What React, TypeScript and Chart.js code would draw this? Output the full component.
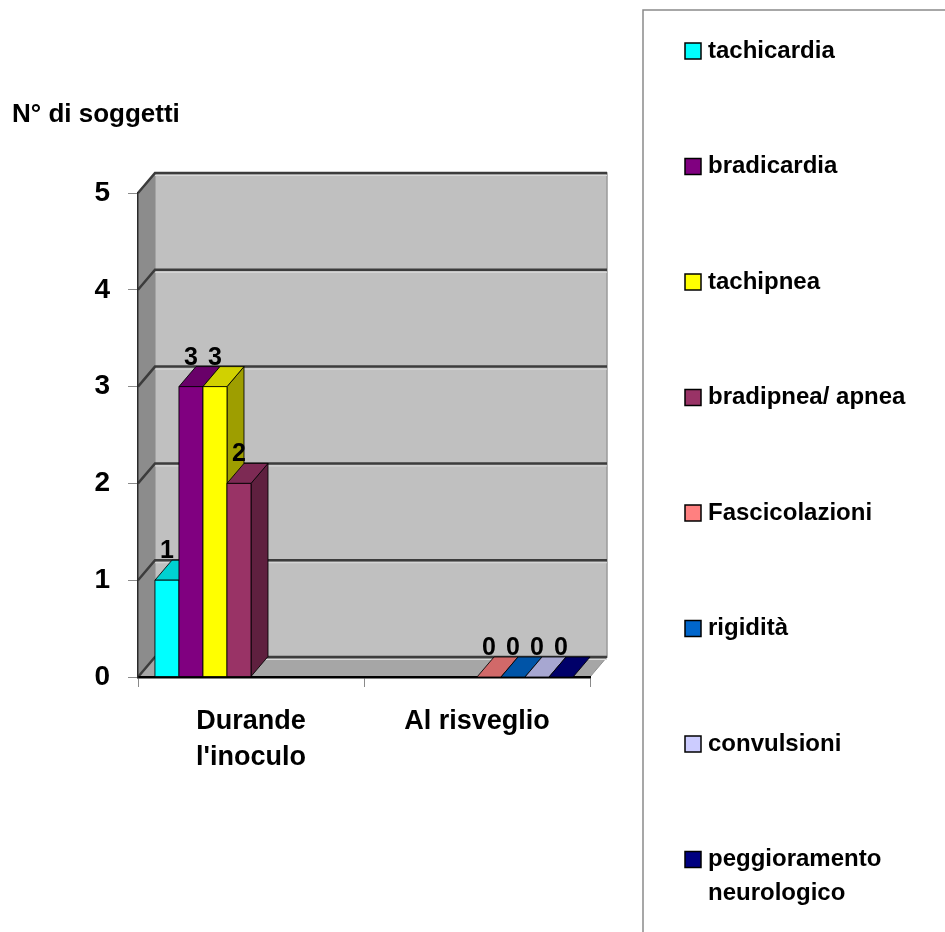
import React, { useEffect, useRef } from 'react';
import { Chart, registerables } from 'chart.js';

Chart.register(...registerables);

// ---------- data ----------
const categories: (string | string[])[] = [['Durande', "l'inoculo"], 'Al risveglio'];
const seriesNames = [
  'tachicardia',
  'bradicardia',
  'tachipnea',
  'bradipnea/ apnea',
  'Fascicolazioni',
  'rigidità',
  'convulsioni',
  'peggioramento neurologico',
];
const tachicardia = [1, null];
const bradicardia = [3, null];
const tachipnea = [3, null];
const bradipnea = [2, null];
const fascicolazioni = [null, 0];
const rigidita = [null, 0];
const convulsioni = [null, 0];
const peggioramento = [null, 0];
const seriesValues = [tachicardia, bradicardia, tachipnea, bradipnea, fascicolazioni, rigidita, convulsioni, peggioramento];
const seriesColors = ['#00FFFF', '#800080', '#FFFF00', '#993366', '#FF8080', '#0066CC', '#CCCCFF', '#000080'];
const yMin = 0;
const yMax = 5;
const yStep = 1;
const yTitle = 'N° di soggetti';

// ---------- styling ----------
const FONT = "'Liberation Sans', Arial, Helvetica, sans-serif";
const DX = 17;
const DY = 20;

function shade(hex: string, f: number): string {
  const h = hex.replace('#', '');
  const r = Math.round(parseInt(h.slice(0, 2), 16) * f);
  const g = Math.round(parseInt(h.slice(2, 4), 16) * f);
  const b = Math.round(parseInt(h.slice(4, 6), 16) * f);
  return `rgb(${r},${g},${b})`;
}

function poly(ctx: CanvasRenderingContext2D, pts: number[][], fill: string, stroke?: string, lw = 1) {
  ctx.beginPath();
  ctx.moveTo(pts[0][0], pts[0][1]);
  for (let i = 1; i < pts.length; i++) ctx.lineTo(pts[i][0], pts[i][1]);
  ctx.closePath();
  ctx.fillStyle = fill;
  ctx.fill();
  if (stroke) {
    ctx.strokeStyle = stroke;
    ctx.lineWidth = lw;
    ctx.stroke();
  }
}

const threeDPlugin = {
  id: 'threeD',
  beforeDraw(chart: any) {
    const { ctx, chartArea: a, scales } = chart;
    const y = scales.y;
    ctx.save();
    // back wall
    poly(ctx, [
      [a.left + DX, a.top - DY],
      [a.right + DX, a.top - DY],
      [a.right + DX, a.bottom - DY],
      [a.left + DX, a.bottom - DY],
    ], '#c0c0c0', '#9a9a9a', 1.5);
    // left wall
    poly(ctx, [
      [a.left, a.top],
      [a.left + DX, a.top - DY],
      [a.left + DX, a.bottom - DY],
      [a.left, a.bottom],
    ], '#8c8c8c');
    // floor
    poly(ctx, [
      [a.left, a.bottom],
      [a.right, a.bottom],
      [a.right + DX, a.bottom - DY],
      [a.left + DX, a.bottom - DY],
    ], '#a6a6a6', '#909090', 1);
    // gridlines on back & left wall
    y.ticks.forEach((t: any) => {
      const py = y.getPixelForValue(t.value);
      ctx.lineWidth = 1;
      ctx.strokeStyle = '#dadada';
      ctx.beginPath();
      ctx.moveTo(a.left + DX, py - DY + 2.5);
      ctx.lineTo(a.right + DX, py - DY + 2.5);
      ctx.stroke();
      ctx.lineWidth = 2.5;
      ctx.strokeStyle = '#3c3c3c';
      ctx.beginPath();
      ctx.moveTo(a.left, py);
      ctx.lineTo(a.left + DX, py - DY);
      ctx.lineTo(a.right + DX, py - DY);
      ctx.stroke();
    });
    ctx.restore();
  },
  afterDatasetsDraw(chart: any) {
    const { ctx } = chart;
    const bars: any[] = [];
    chart.data.datasets.forEach((ds: any, di: number) => {
      const meta = chart.getDatasetMeta(di);
      if (meta.hidden) return;
      meta.data.forEach((el: any, i: number) => {
        const v = ds.data[i];
        if (v === null || v === undefined) return;
        const p = el.getProps(['x', 'y', 'base', 'width'], true);
        bars.push({ x: p.x, y: p.y, base: p.base, w: p.width, color: ds.backgroundColor, v });
      });
    });
    bars.sort((a, b) => a.x - b.x);
    ctx.save();
    const edge = 'rgba(0,0,0,0.85)';
    bars.forEach((b) => {
      const l = b.x - b.w / 2;
      const r = b.x + b.w / 2;
      // side face
      if (b.base - b.y > 0.5) {
        poly(ctx, [[r, b.y], [r + DX, b.y - DY], [r + DX, b.base - DY], [r, b.base]], shade(b.color, 0.62), edge, 1);
      }
      // top face
      poly(ctx, [[l, b.y], [r, b.y], [r + DX, b.y - DY], [l + DX, b.y - DY]], shade(b.color, 0.82), edge, 1);
      // front face
      if (b.base - b.y > 0.5) {
        poly(ctx, [[l, b.y], [r, b.y], [r, b.base], [l, b.base]], b.color, edge, 1);
      }
    });
    // value labels
    ctx.fillStyle = '#000';
    ctx.font = `bold 25px ${FONT}`;
    ctx.textAlign = 'center';
    ctx.textBaseline = 'alphabetic';
    bars.forEach((b) => {
      ctx.fillText(String(b.v), b.x, b.y - DY - 2);
    });
    ctx.restore();
  },
  afterDraw(chart: any) {
    const { ctx, width, height } = chart;
    ctx.save();
    // axis title
    ctx.fillStyle = '#000';
    ctx.font = `bold 26px ${FONT}`;
    ctx.textAlign = 'left';
    ctx.textBaseline = 'alphabetic';
    ctx.fillText(yTitle, 12, 122);
    // legend box
    ctx.strokeStyle = '#8a8a8a';
    ctx.lineWidth = 1.5;
    ctx.beginPath();
    ctx.moveTo(643, height + 2);
    ctx.lineTo(643, 10);
    ctx.lineTo(width + 2, 10);
    ctx.stroke();
    // legend items
    ctx.font = `bold 24px ${FONT}`;
    ctx.textBaseline = 'middle';
    const maxW = width - 708 - 8;
    chart.data.datasets.forEach((ds: any, i: number) => {
      const cy = 51 + i * 115.5;
      ctx.fillStyle = ds.backgroundColor;
      ctx.fillRect(685, cy - 8, 16, 16);
      ctx.strokeStyle = '#000';
      ctx.lineWidth = 1.5;
      ctx.strokeRect(685, cy - 8, 16, 16);
      // wrap text
      const words = String(ds.label).split(' ');
      const lines: string[] = [];
      let cur = '';
      words.forEach((w) => {
        const test = cur ? cur + ' ' + w : w;
        if (cur && ctx.measureText(test).width > maxW) {
          lines.push(cur);
          cur = w;
        } else cur = test;
      });
      if (cur) lines.push(cur);
      ctx.fillStyle = '#000';
      lines.forEach((ln, k) => ctx.fillText(ln, 708, cy + k * 34));
    });
    ctx.restore();
  },
};

export default function App() {
  const ref = useRef<HTMLCanvasElement>(null);
  useEffect(() => {
    document.body.style.margin = '0';
    const canvas = ref.current;
    if (!canvas) return;
    const chart = new Chart(canvas, {
      type: 'bar',
      data: {
        labels: categories,
        datasets: seriesNames.map((name, i) => ({
          label: name,
          data: seriesValues[i],
          backgroundColor: seriesColors[i],
          borderWidth: 0,
          categoryPercentage: 0.85,
          barPercentage: 1,
        })),
      },
      options: {
        responsive: false,
        animation: false,
        events: [],
        devicePixelRatio: 1,
        layout: { padding: { top: 193, right: 355, left: 0, bottom: 0 } },
        plugins: {
          legend: { display: false },
          tooltip: { enabled: false },
          title: { display: false },
        },
        scales: {
          x: {
            type: 'category',
            grid: { drawOnChartArea: false, drawTicks: true, tickLength: 10, color: '#8a8a8a', offset: true },
            border: { display: true, color: '#000', width: 2.5 },
            ticks: {
              color: '#000',
              font: { family: FONT, size: 27, weight: 'bold', lineHeight: 1.33 },
              padding: 17,
              maxRotation: 0,
              autoSkip: false,
            },
            afterFit: (s: any) => {
              s.height = 255;
            },
          },
          y: {
            type: 'linear',
            min: yMin,
            max: yMax,
            grid: { drawOnChartArea: false, drawTicks: true, tickLength: 10, color: '#8a8a8a' },
            border: { display: true, color: '#2a2a2a', width: 1.5 },
            ticks: {
              stepSize: yStep,
              color: '#000',
              font: { family: FONT, size: 28, weight: 'bold' },
              padding: 18,
            },
            afterFit: (s: any) => {
              s.width = 138;
            },
          },
        },
      },
      plugins: [threeDPlugin],
    } as any);
    return () => chart.destroy();
  }, []);
  return (
    <div style={{ width: 945, height: 932 }}>
      <canvas ref={ref} width={945} height={932} />
    </div>
  );
}
